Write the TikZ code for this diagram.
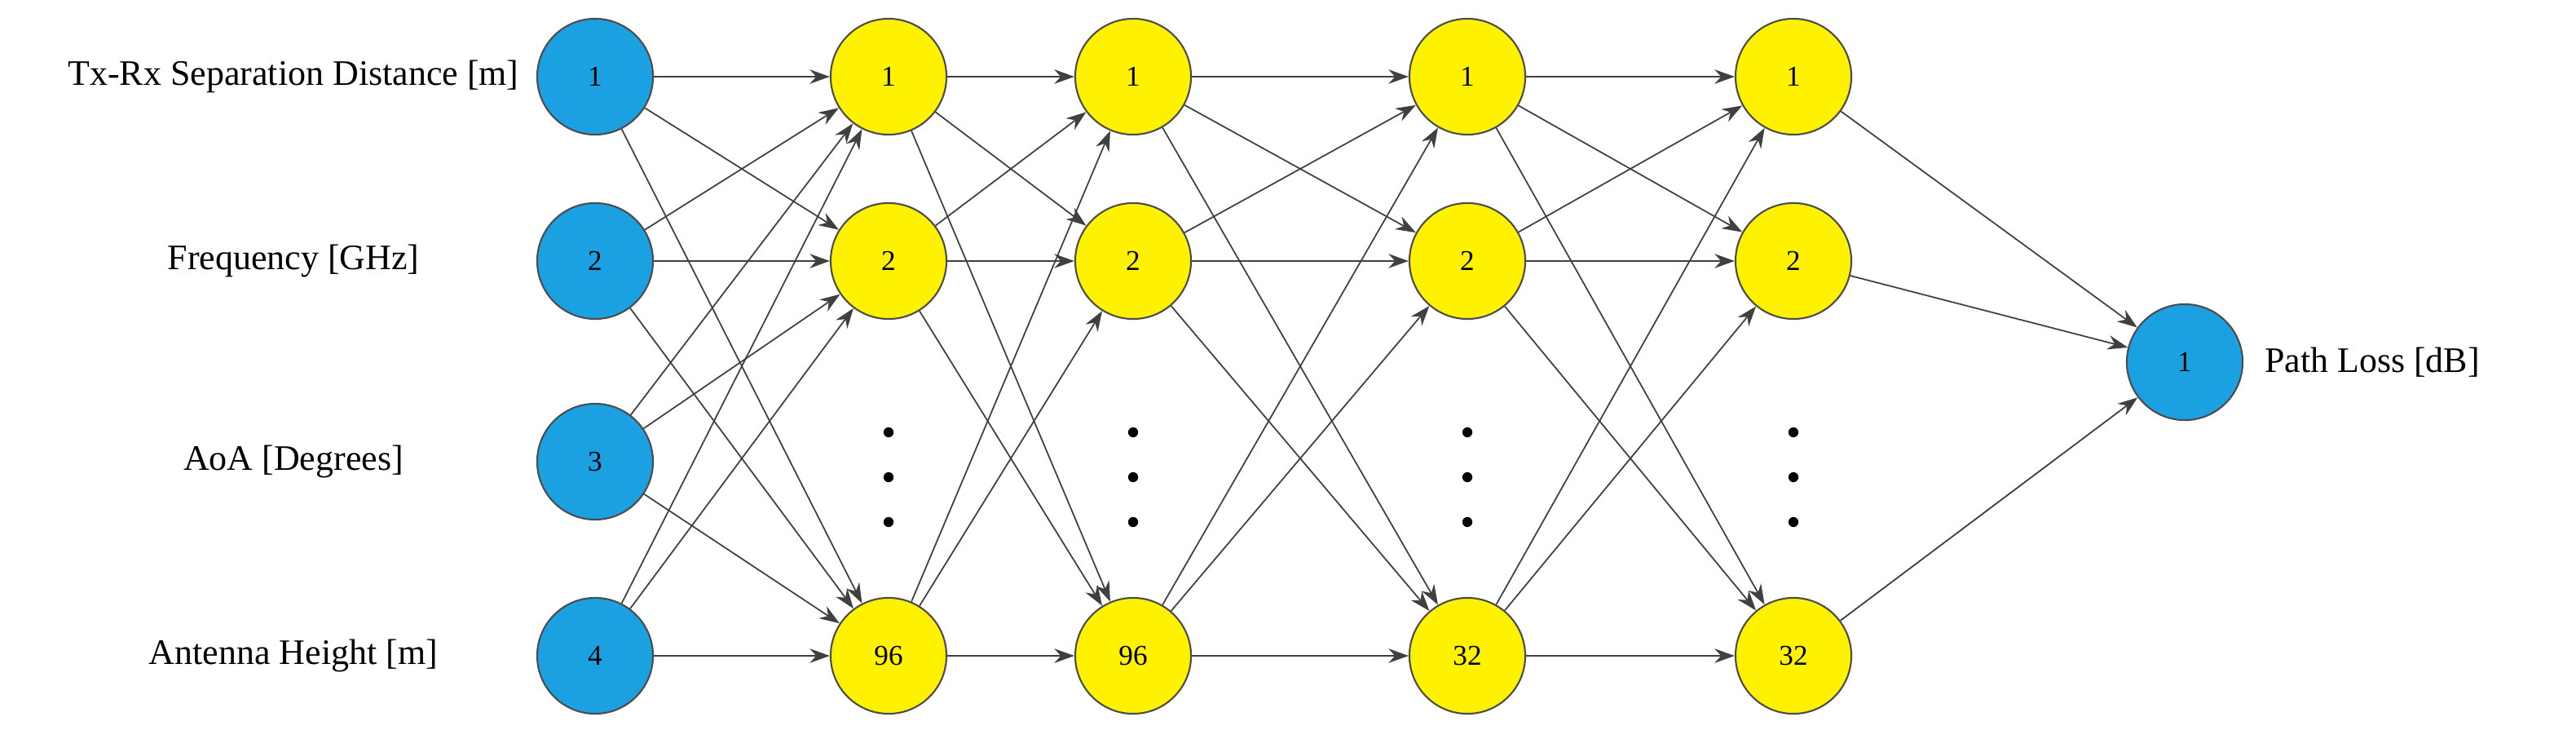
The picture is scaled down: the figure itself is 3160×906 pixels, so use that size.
\documentclass[tikz,border=0pt]{standalone}
\usepackage{fontspec}
\setmainfont{Liberation Serif}
\usetikzlibrary{arrows.meta}
\begin{document}
\begin{tikzpicture}[x=0.01cm,y=-0.01cm,
  neu/.style={circle,draw=black!70,line width=0.6pt,minimum size=1.42cm,inner sep=0pt,font=\fontsize{10}{12}\selectfont},
  inp/.style={neu,fill=cyan!80!blue!90},
  hid/.style={neu,fill=yellow},
  lab/.style={font=\fontsize{12.5}{15}\selectfont},
  con/.style={draw=black!75,line width=0.5pt,-{Stealth[length=7pt,width=5pt]}},
  dot/.style={circle,fill=black,inner sep=0pt,minimum size=3.5pt}]
\useasboundingbox (0,0) rectangle (3160,906);
\definecolor{inblue}{RGB}{27,161,226}
\tikzset{inp/.style={neu,fill=inblue}}
% input
\foreach \i/\y in {1/94,2/320,3/566,4/804}{\node[inp] (i\i) at (730,\y) {\i};}
\node[lab] (l1) at (360,94) {Tx-Rx Separation Distance [m]};
\node[lab] (l2) at (360,320) {Frequency [GHz]};
\node[lab] (l3) at (360,566) {AoA [Degrees]};
\node[lab] (l4) at (360,804) {Antenna Height [m]};
% hidden
\foreach \c/\x/\n in {a/1090/96,b/1390/96,c/1800/32,d/2200/32}{
  \node[hid] (\c1) at (\x,94) {1};
  \node[hid] (\c2) at (\x,320) {2};
  \node[hid] (\c3) at (\x,804) {\n};
  \node[dot] (\c d1) at (\x,530) {};
  \node[dot] (\c d2) at (\x,585) {};
  \node[dot] (\c d3) at (\x,640) {};
}
\node[inp] (o) at (2680,444) {1};
\node[lab] (lo) at (2910,444) {Path Loss [dB]};
% connections
\foreach \s in {1,2,3,4}{\foreach \t in {1,2,3}{\draw[con] (i\s) -- (a\t);}}
\foreach \s in {1,2,3}{\foreach \t in {1,2,3}{
  \draw[con] (a\s) -- (b\t);
  \draw[con] (b\s) -- (c\t);
  \draw[con] (c\s) -- (d\t);}}
\foreach \s in {1,2,3}{\draw[con] (d\s) -- (o);}
\end{tikzpicture}
\end{document}
